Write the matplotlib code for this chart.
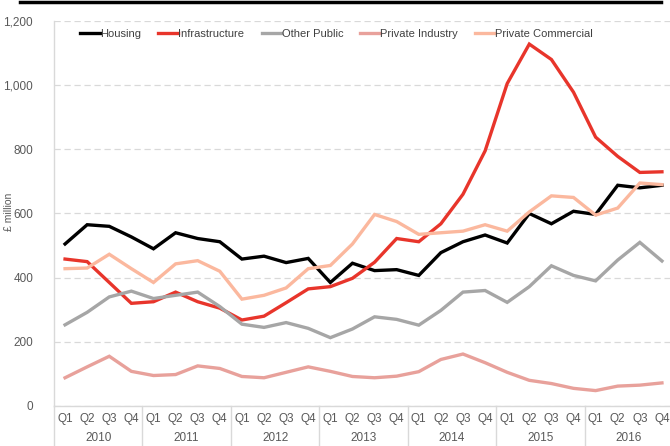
import numpy as np
import matplotlib
matplotlib.use("Agg")
from matplotlib import pyplot as plt
from matplotlib.transforms import blended_transform_factory

plt.rcParams['font.family'] = ['Liberation Sans', 'DejaVu Sans']

years = ['2010', '2011', '2012', '2013', '2014', '2015', '2016']
quarters = ['Q1', 'Q2', 'Q3', 'Q4']

housing = [505, 565, 560, 527, 490, 540, 522, 512, 458, 467, 447, 460, 385, 445,
           422, 425, 407, 478, 512, 533, 508, 600, 568, 607, 597, 688, 680, 688]
infrastructure = [458, 450, 385, 320, 325, 355, 325, 305, 268, 280, 322, 365, 372, 398,
                  448, 522, 512, 568, 660, 795, 1005, 1128, 1080, 978, 838, 778, 728, 730]
other_public = [253, 292, 340, 358, 335, 345, 355, 310, 255, 245, 260, 242, 213, 240,
                278, 270, 252, 298, 355, 360, 323, 372, 437, 407, 390, 455, 510, 452]
private_industry = [88, 122, 155, 108, 95, 98, 125, 117, 92, 88, 105, 122, 108, 92,
                    88, 93, 107, 145, 162, 135, 105, 80, 70, 55, 48, 62, 65, 72]
private_commercial = [428, 430, 473, 428, 385, 443, 453, 420, 333, 345, 368, 428, 438, 505,
                      597, 575, 535, 540, 545, 565, 545, 605, 655, 650, 595, 617, 695, 690]

series = [
    ('Housing', housing, '#000000'),
    ('Infrastructure', infrastructure, '#e8352b'),
    ('Other Public', other_public, '#a6a6a6'),
    ('Private Industry', private_industry, '#e8a19b'),
    ('Private Commercial', private_commercial, '#fbb89e'),
]

n = len(years) * len(quarters)
x = np.arange(n) + 0.5

fig = plt.figure(figsize=(6.7, 4.46), dpi=100)
ax = fig.add_axes([54 / 670, 40 / 446, 619 / 670, 385 / 446])

for name, vals, col in series:
    ax.plot(x, vals, color=col, lw=2.4, label=name, solid_joinstyle='miter')

ax.set_xlim(0, n)
ax.set_ylim(0, 1200)
ax.set_yticks(np.arange(0, 1201, 200))
ax.set_yticklabels([f'{v:,}' for v in range(0, 1201, 200)])
ax.yaxis.grid(True, color='#d9d9d9', ls=(0, (5, 3)), lw=0.9)
ax.set_axisbelow(True)

ax.set_xticks(x)
ax.set_xticklabels(quarters * len(years))
ax.tick_params(axis='both', length=0, labelsize=8.5, colors='#595959')
ax.tick_params(axis='x', pad=5)
ax.tick_params(axis='y', pad=15)

for s in ['top', 'right']:
    ax.spines[s].set_visible(False)
for s in ['left', 'bottom']:
    ax.spines[s].set_color('#d9d9d9')
    ax.spines[s].set_linewidth(1)

# year labels and separators
tr = blended_transform_factory(ax.transData, ax.transAxes)
for i, yr in enumerate(years):
    ax.text(i * 4 + 2, -0.083, yr, transform=tr, ha='center', va='center',
            fontsize=8.5, color='#595959')
    ax.plot([i * 4, i * 4], [0, -0.105], transform=tr, color='#d9d9d9', lw=1,
            clip_on=False)

ax.set_ylabel('£ million', fontsize=7.5, color='#595959')
ax.yaxis.set_label_coords(-(54 - 14.5) / 619, (406 - 212) / 385)

ax.legend(loc='center left', bbox_to_anchor=(0.035, 0.966), ncol=5, frameon=False,
          borderaxespad=0, fontsize=8, handlelength=1.75, handletextpad=0.05,
          columnspacing=1.55, labelcolor='#404040')

# black rule along the top
fig.add_artist(plt.Line2D([20 / 670, 661 / 670], [1 - 1.5 / 446, 1 - 1.5 / 446],
                          color='black', lw=2.5, transform=fig.transFigure))

fig.savefig('out.png', dpi=100)
